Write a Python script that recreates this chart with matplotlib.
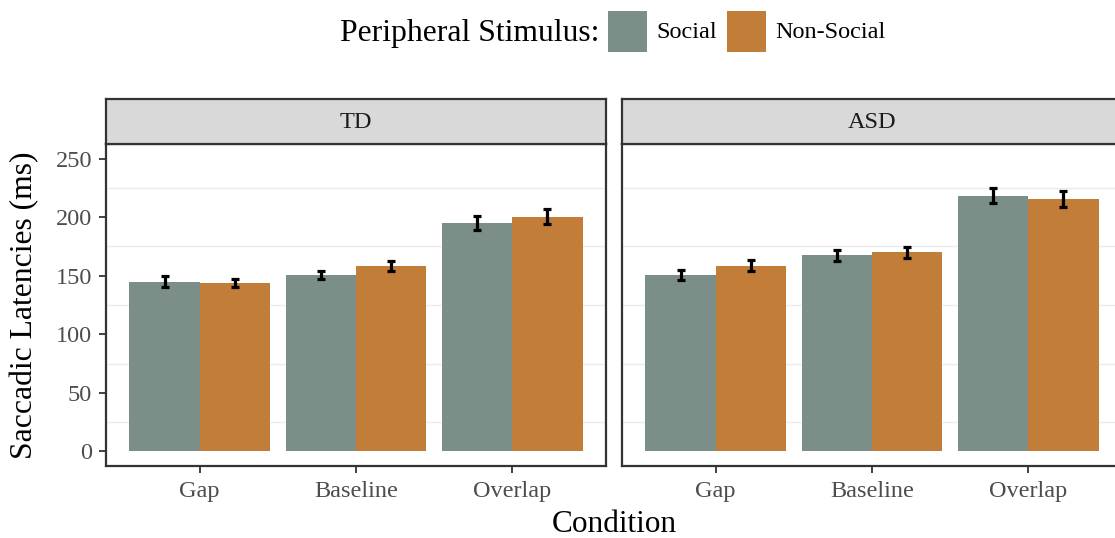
import matplotlib
matplotlib.use("Agg")
import matplotlib.pyplot as plt
from matplotlib.patches import Rectangle
import numpy as np

plt.rcParams['font.family'] = ['Liberation Serif', 'DejaVu Serif']

conditions = ["Gap", "Baseline", "Overlap"]
groups = ["TD", "ASD"]
stimuli = ["Social", "Non-Social"]
colors = ["#7B8E87", "#C27D38"]

# mean saccadic latency (ms) per group, stimulus and condition
td_social = [145.0, 150.5, 195.0]
td_nonsocial = [143.5, 158.5, 200.5]
asd_social = [150.8, 167.5, 218.5]
asd_nonsocial = [158.7, 170.0, 215.5]

# standard errors
td_social_se = [4.5, 3.5, 6.0]
td_nonsocial_se = [3.5, 4.5, 6.5]
asd_social_se = [4.5, 4.5, 6.4]
asd_nonsocial_se = [4.8, 4.7, 6.7]

yticks = [0, 50, 100, 150, 200, 250]

panel_data = {
    "TD": ([td_social, td_nonsocial], [td_social_se, td_nonsocial_se]),
    "ASD": ([asd_social, asd_nonsocial], [asd_social_se, asd_nonsocial_se]),
}

W, H = 1115, 538
fig = plt.figure(figsize=(W / 100, H / 100), dpi=100)

border = "#333333"
tick_col = "#4D4D4D"
grid_col = "#EBEBEB"

panel_left = [106, 622]
panel_w = 500
panel_top, panel_bot = 144, 466
strip_top = 99

x = np.arange(1, len(conditions) + 1)
bw = 0.45

for gi, grp in enumerate(groups):
    l = panel_left[gi]
    ax = fig.add_axes([l / W, (H - panel_bot) / H, panel_w / W, (panel_bot - panel_top) / H])
    means, ses = panel_data[grp]
    for si in range(len(stimuli)):
        offs = (si - 0.5) * bw
        ax.bar(x + offs, means[si], width=bw, color=colors[si], linewidth=0, zorder=2)
        ax.errorbar(x + offs, means[si], yerr=ses[si], fmt='none', ecolor='black',
                    elinewidth=2.3, capsize=3.2, capthick=2.3, zorder=3)
    ax.set_xlim(0.4, 3.6)
    ax.set_ylim(-12.5, 262.5)
    ax.set_yticks(yticks)
    ax.set_yticks([25, 75, 125, 175, 225], minor=True)
    ax.yaxis.grid(True, which='minor', color=grid_col, linewidth=1.0, zorder=0)
    ax.set_axisbelow(True)
    ax.set_xticks(x)
    ax.set_xticklabels(conditions, fontsize=17.5, color=tick_col)
    ax.tick_params(axis='x', which='major', length=5, width=1.3, color=border, pad=6)
    ax.tick_params(axis='y', which='major', length=5, width=1.3, color=border, pad=5)
    ax.tick_params(axis='y', which='minor', length=0)
    if gi == 0:
        ax.set_yticklabels([str(v) for v in yticks], fontsize=17.5, color=tick_col)
    else:
        ax.tick_params(axis='y', which='major', left=False, labelleft=False)
    for sp in ax.spines.values():
        sp.set_color(border)
        sp.set_linewidth(1.6)

    # facet strip
    sax = fig.add_axes([l / W, (H - panel_top) / H, panel_w / W, (panel_top - strip_top) / H])
    sax.set_facecolor("#D9D9D9")
    sax.set_xticks([])
    sax.set_yticks([])
    for sp in sax.spines.values():
        sp.set_color(border)
        sp.set_linewidth(1.6)
    sax.text(0.5, 0.48, grp, transform=sax.transAxes, ha='center', va='center',
             fontsize=17.5, color="#1A1A1A")

fig.text(25 / W, 1 - 305 / H, "Saccadic Latencies (ms)", rotation=90,
         ha='center', va='center', fontsize=22.8, color='black')
fig.text(614 / W, 1 - 524 / H, "Condition", ha='center', va='center',
         fontsize=22.5, color='black')

# legend across the top
fig.text(340 / W, 1 - 33 / H, "Peripheral Stimulus:", ha='left', va='center',
         fontsize=22.8, color='black')
key_x = [608, 727]
for si, lab in enumerate(stimuli):
    kx = key_x[si]
    fig.add_artist(Rectangle((kx / W, 1 - 52 / H), 39 / W, 41 / H,
                             transform=fig.transFigure, facecolor=colors[si],
                             edgecolor='none'))
    fig.text((kx + 48) / W, 1 - 33 / H, lab, ha='left', va='center',
             fontsize=17.5, color='black')

fig.savefig("out.png", dpi=100)
